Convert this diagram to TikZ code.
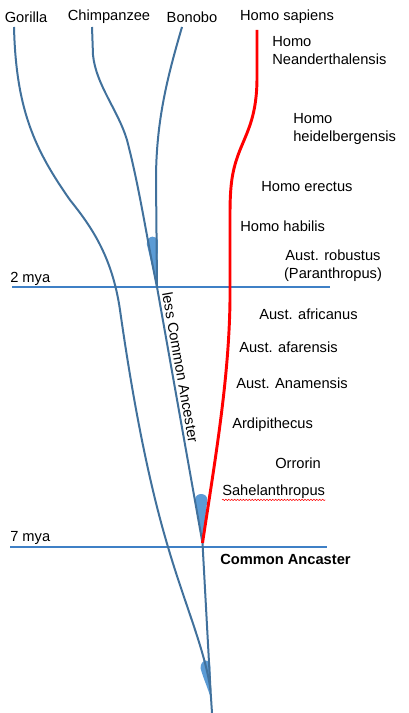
\documentclass[tikz,border=0pt]{standalone}
\usepackage{fontspec}
\setmainfont{Liberation Sans}
\usetikzlibrary{positioning}
\usetikzlibrary{decorations.pathmorphing}
\definecolor{branchblue}{HTML}{41719C}
\definecolor{dropblue}{HTML}{5B9BD5}
\definecolor{myablue}{HTML}{3F80C6}
\tikzstyle{species}=[inner sep=0pt,text=black,font=\fontsize{11}{13.5}\selectfont]
\tikzstyle{taxon}=[species,anchor=west,align=left]
\tikzstyle{branch} = [draw,branchblue,line width=1.5pt]
\tikzstyle{hominin} = [draw,red,line width=2.2pt]
\tikzstyle{timeline} = [draw,myablue,line width=0.8pt]
\tikzstyle{junction} = [fill=dropblue]

\begin{document}
\begin{tikzpicture}[x=0.75pt,y=-0.75pt]
\useasboundingbox (0,0) rectangle (408,713);

    \foreach \pos/\name/\label in {{(26,17)/gorilla/Gorilla}, {(109,17)/chimp/Chimpanzee}, {(192,17)/bonobo/Bonobo}, {(287,17)/sapiens/Homo sapiens}}
        \node[species] (\name) at \pos {\label};

    \foreach \pos/\name/\label in {{(272,51)/neander/{Homo\\Neanderthalensis}}, {(293,129)/heidel/{Homo\\heidelbergensis}}, {(261,187)/erectus/Homo erectus}, {(240,226)/habilis/Homo habilis}, {(259,314)/africanus/Aust. africanus}, {(239,347)/afarensis/Aust. afarensis}, {(236,383)/anamensis/Aust. Anamensis}, {(232,425)/ardi/Ardipithecus}, {(275,463)/orrorin/Orrorin}, {(222,492)/sahel/Sahelanthropus}}
        \node[taxon] (\name) at \pos {\label};

 \node[species, align=center] (robustus) at (333,266) {Aust. robustus\\(Paranthropus)};
 \node[taxon] (ancestor) at (220,559) {\bfseries Common Ancaster};
 \draw[red, line width=0.4pt, decorate, decoration={snake, amplitude=0.5pt, segment length=2.2pt}] ([yshift=-0.6pt]sahel.south west) -- ([yshift=-0.6pt]sahel.south east);

    % time scale
 \node[taxon] (mya2) at (10,279) {2 mya};
 \node[taxon] (mya7) at (10,538) {7 mya};
 \coordinate (mya2w) at (12,287);  \coordinate (mya2e) at (330,287);
 \coordinate (mya7w) at (10,547);  \coordinate (mya7e) at (327,547);
 \path[timeline] (mya2w) -- (mya2e);
 \path[timeline] (mya7w) -- (mya7e);

    % tops of the lineages and the junctions
 \coordinate (gorillatop) at (14,27);
 \coordinate (chimptop) at (92,27);
 \coordinate (bonobotop) at (182,27);
 \coordinate (sapienstop) at (257,30);
 \coordinate (j1) at (157,287);
 \coordinate (j2) at (202.5,543);
 \coordinate (j3) at (210.5,690);
 \coordinate (root) at (212,713);

 \path[junction] (146.8,244) .. controls (146.5,234.5) and (158.5,234.5) .. (158,242) -- (j1) -- cycle;
 \path[junction] (195,500) .. controls (195,492) and (207.5,492) .. (207.3,500) -- (j2) -- cycle;
 \path[junction] (200.5,668) .. controls (201,658.5) and (210,658) .. (210.3,666) -- (211.3,700) .. controls (208,688) and (203,678) .. cycle;

 \path[branch] (gorillatop) .. controls (16,110) and (35,150) .. (70,200) .. controls (90,225) and (112,255) .. (120,310) .. controls (130,380) and (145,470) .. (168,547) .. controls (185,605) and (205,650) .. (j3);
 \path[branch] (bonobotop) .. controls (168,75) and (156,120) .. (156,180) -- (j1);
 \path[branch] (chimptop) -- (93,55) .. controls (96,85) and (118,110) .. (127,140) .. controls (140,190) and (147,240) .. (j1) -- node[pos=0.32, sloped, above, species, inner sep=2pt] (lca) {less Common Ancester} (j2) -- (j3) -- (root);
 \path[hominin] (sapienstop) -- (257,77) .. controls (257,115) and (248,130) .. (240,150) .. controls (232,170) and (230,185) .. (230,215) -- (230,300) .. controls (229,380) and (215,460) .. (j2);

\end{tikzpicture}
\end{document}
